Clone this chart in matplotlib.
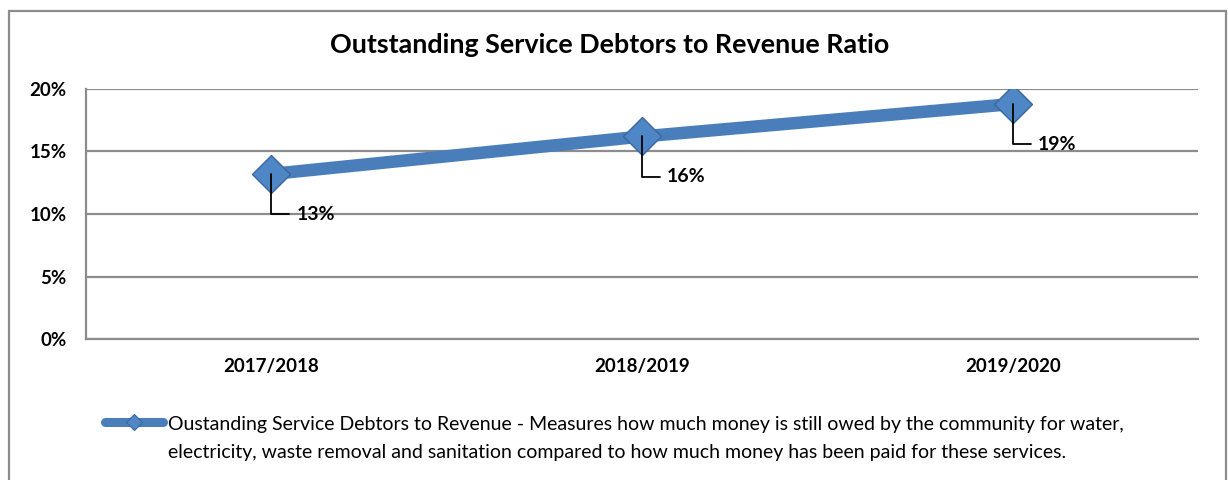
import matplotlib
matplotlib.use('Agg')
from matplotlib import pyplot as plt
from matplotlib.lines import Line2D
from matplotlib.patches import Rectangle
from matplotlib.ticker import FuncFormatter

plt.rcParams['font.family'] = ['Lato', 'DejaVu Sans']

# ratio of outstanding service debtors to revenue per financial year
years = ['2017/2018', '2018/2019', '2019/2020']
ratios = [0.132, 0.162, 0.188]
y_ticks = [0.0, 0.05, 0.10, 0.15, 0.20]

title = 'Outstanding Service Debtors to Revenue Ratio'
legend_text = ('Oustanding Service Debtors to Revenue - Measures how much money is still owed by the community for water,\n'
               'electricity, waste removal and sanitation compared to how much money has been paid for these services.')

blue = '#4A7EBB'
edge_blue = '#3A67A0'
grid_grey = '#8C8C8C'

fig = plt.figure(figsize=(12.28, 4.8), dpi=100)
ax = fig.add_axes([86 / 1228, 141 / 480, 1112 / 1228, 250 / 480])

xs = [i + 0.5 for i in range(len(years))]
ax.plot(xs, ratios, color=blue, lw=9, solid_capstyle='butt', zorder=2,
        marker='D', markersize=19, markerfacecolor='#4F86C6',
        markeredgecolor=edge_blue, markeredgewidth=1)

# data labels with elbow leader lines
for x, v in zip(xs, ratios):
    ax.annotate('{:.0%}'.format(v), xy=(x, v), xytext=(18, -29),
                textcoords='offset points', ha='left', va='center',
                fontsize=14, fontweight='bold', color='black',
                arrowprops=dict(arrowstyle='-', color='black', lw=1.3,
                                shrinkA=3, shrinkB=0,
                                connectionstyle='angle,angleA=0,angleB=90,rad=0'),
                zorder=5)

ax.set_xlim(0, 3)
ax.set_ylim(0, 0.2)
ax.set_xticks(xs)
ax.set_xticklabels(years, fontsize=13.5, fontweight='bold')
ax.set_yticks(y_ticks)
ax.yaxis.set_major_formatter(FuncFormatter(lambda v, p: '{:.0%}'.format(v)))
for lab in ax.get_yticklabels():
    lab.set_fontweight('bold')
    lab.set_fontsize(13.5)
ax.tick_params(axis='both', length=0, pad=14)
ax.tick_params(axis='x', pad=14)
ax.yaxis.grid(True, color=grid_grey, lw=1.6)
ax.set_axisbelow(True)
for side in ['top', 'right']:
    ax.spines[side].set_visible(False)
for side in ['left', 'bottom']:
    ax.spines[side].set_color(grid_grey)
    ax.spines[side].set_linewidth(1.6)

fig.text(610 / 1228, 1 - 45 / 480, title, ha='center', va='center',
         fontsize=19.4, fontweight='bold')

# legend drawn by hand so the key sits on the first line
ly = 1 - 422 / 480
fig.add_artist(Line2D([105 / 1228, 163 / 1228], [ly, ly], transform=fig.transFigure,
                      color=blue, lw=6.5, solid_capstyle='round'))
fig.add_artist(Line2D([134 / 1228], [ly], transform=fig.transFigure, marker='D',
                      markersize=8, markerfacecolor='#4F86C6', markeredgecolor=edge_blue,
                      markeredgewidth=0.8, color=blue))
fig.text(168 / 1228, 1 - 416 / 480, legend_text, ha='left', va='top',
         fontsize=14, linespacing=1.8)

# chart frame
fig.add_artist(Rectangle((9 / 1228, -0.05), 1217 / 1228, 1 - 11 / 480 + 0.05,
                         transform=fig.transFigure, fill=False,
                         edgecolor='#8C8C8C', lw=1.6))

fig.savefig('out.png', dpi=100)
